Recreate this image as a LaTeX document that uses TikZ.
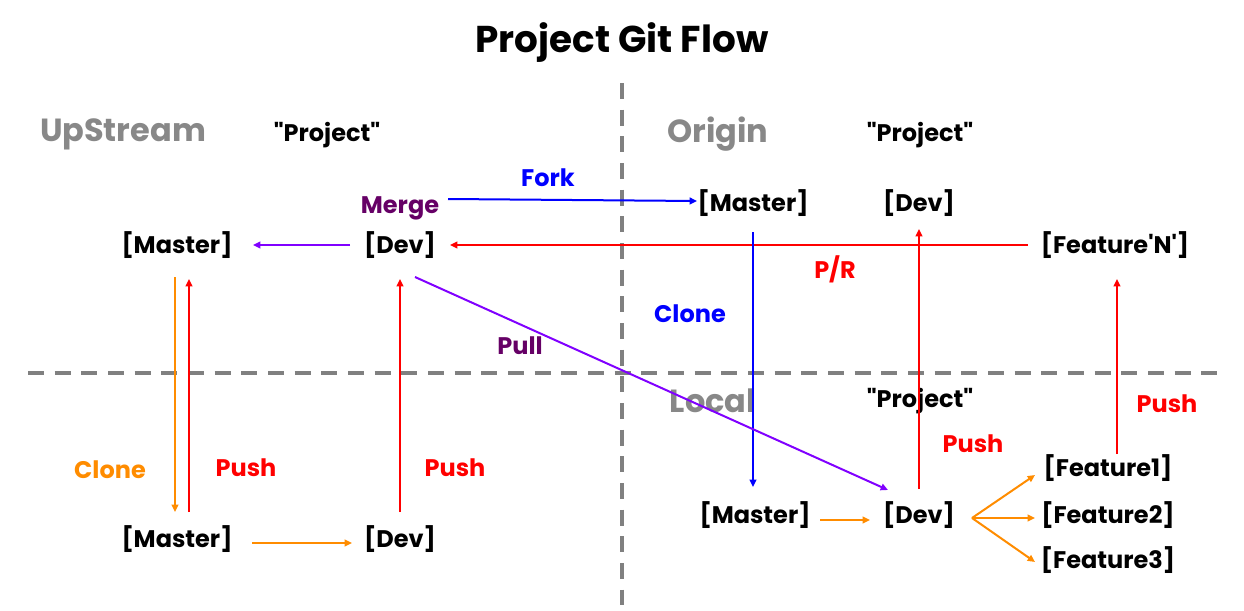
\documentclass[tikz,border=0pt]{standalone}
\usepackage{fontspec}
\setmainfont{Poppins}
\usetikzlibrary{arrows.meta,calc}
\definecolor{gtext}{HTML}{888888}
\definecolor{gline}{HTML}{808080}
\definecolor{cred}{HTML}{FF0000}
\definecolor{cblue}{HTML}{0000FF}
\definecolor{corange}{HTML}{FF8C00}
\definecolor{cviolet}{HTML}{8000FF}
\definecolor{cdpurple}{HTML}{660066}
\tikzset{
  br/.style={font=\bfseries\fontsize{18}{21}\selectfont, text=black, inner sep=0pt, yshift=-1.5pt},
  region/.style={font=\bfseries\fontsize{24}{28}\selectfont, text=gtext, inner sep=0pt, yshift=-2.5pt},
  proj/.style={font=\bfseries\fontsize{18}{21}\selectfont, text=black, inner sep=0pt, yshift=-1.5pt},
  op/.style={font=\bfseries\fontsize{18}{21}\selectfont, inner sep=0pt, yshift=-1pt},
  conn/.style={line width=1.5pt, -{Triangle[length=5.5pt,width=5pt]}},
  divider/.style={gline, line width=3pt, dash pattern=on 12pt off 8pt},
}
\begin{document}
\begin{tikzpicture}[x=0.75pt,y=-0.75pt]
\useasboundingbox (0,0) rectangle (1244,610);
% dividers
\coordinate (vtop) at (622,83);
\coordinate (vbot) at (622,605);
\coordinate (hl) at (28,373);
\coordinate (hr) at (1218,373);
\draw[divider] (vtop) -- (vbot);
\draw[divider] (hl) -- (hr);
% title and region labels
\node[font=\bfseries\fontsize{28}{32}\selectfont, inner sep=0pt, yshift=-2pt] (title) at (622,40) {Project Git Flow};
\node[region] (upstream) at (123,131) {UpStream};
\node[proj] (p1) at (327,133) {\textquotedbl Project\textquotedbl};
\node[region] (origin) at (718,131) {Origin};
\node[proj] (p2) at (920,133) {\textquotedbl Project\textquotedbl};
\node[region] (local) at (713,397) {Local};
\node[proj] (p3) at (920,399) {\textquotedbl Project\textquotedbl};
% branch nodes
\node[br] (uM) at (177,243) {[Master]};
\node[br] (uD) at (400,243) {[Dev]};
\node[br] (oM) at (753,201) {[Master]};
\node[br] (oD) at (919,201) {[Dev]};
\node[br] (oF) at (1115,243) {[Feature\textquotesingle N\textquotesingle]};
\node[br] (bM) at (177,537) {[Master]};
\node[br] (bD) at (400,537) {[Dev]};
\node[br] (lM) at (755,513) {[Master]};
\node[br] (lD) at (919,513) {[Dev]};
\node[br] (f1) at (1108,466) {[Feature1]};
\node[br] (f2) at (1108,513) {[Feature2]};
\node[br] (f3) at (1108,558) {[Feature3]};
% operation labels
\node[op, text=cdpurple] (merge) at (400,207) {Merge};
\node[op, text=cblue] (fork) at (548,176) {Fork};
\node[op, text=cred] (pr) at (835,268) {P/R};
\node[op, text=cblue] (clone1) at (690,312) {Clone};
\node[op, text=cdpurple] (pull) at (520,344) {Pull};
\node[op, text=corange] (clone2) at (110,468) {Clone};
\node[op, text=cred] (push1) at (246,466) {Push};
\node[op, text=cred] (push2) at (455,466) {Push};
\node[op, text=cred] (push3) at (973,442) {Push};
\node[op, text=cred] (push4) at (1167,402) {Push};
% connectors
\draw[conn, cviolet] ($(uD)+(-50,0)$) -- ($(uM)+(76,0)$);
\draw[conn, cred] ($(oF)+(-87,0)$) -- ($(uD)+(50,0)$);
\draw[conn, cblue] ($(uD)+(48,-46)$) -- ($(oM)+(-56,-2)$);
\draw[conn, cblue] ($(oM)+(0,29)$) -- ($(lM)+(-2,-28)$);
\draw[conn, cred] ($(lD)+(0,-26)$) -- ($(oD)+(0,26)$);
\draw[conn, cred] ($(f1)+(9,-14)$) -- ($(oF)+(2,34)$);
\draw[conn, cviolet] ($(uD)+(15,32)$) -- ($(lD)+(-31,-25)$);
\draw[conn, corange] ($(uM)+(-2,32)$) -- ($(bM)+(-2,-27)$);
\draw[conn, cred] ($(bM)+(12,-27)$) -- ($(uM)+(12,34)$);
\draw[conn, cred] ($(bD)+(0,-27)$) -- ($(uD)+(0,34)$);
\draw[conn, corange] ($(bM)+(75,4)$) -- ($(bD)+(-48,4)$);
\draw[conn, corange] ($(lM)+(65,5)$) -- ($(lD)+(-49,5)$);
\draw[conn, corange] ($(lD)+(53,3)$) -- ($(f1)+(-73,7)$);
\draw[conn, corange] ($(lD)+(53,3)$) -- ($(f2)+(-73,3)$);
\draw[conn, corange] ($(lD)+(53,3)$) -- ($(f3)+(-73,2)$);
\end{tikzpicture}
\end{document}
